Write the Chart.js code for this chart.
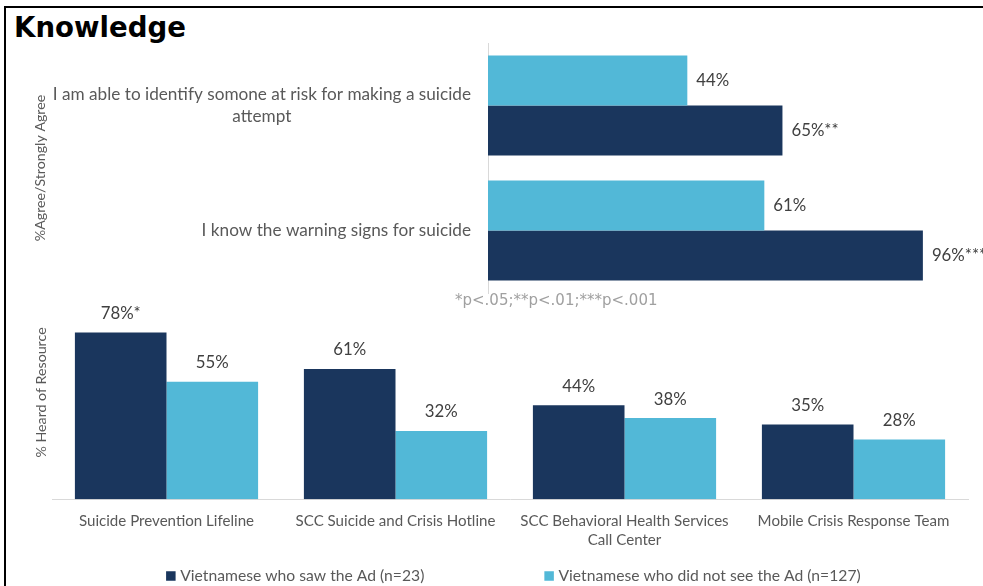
<!DOCTYPE html>
<html>
<head>
<meta charset="utf-8">
<title>Knowledge</title>
<script src="https://cdn.jsdelivr.net/npm/chart.js@4.4.1/dist/chart.umd.min.js"></script>
<style>
  html, body { margin: 0; padding: 0; background: #fff; }
  #wrap { position: relative; width: 983px; height: 586px; overflow: hidden; }
  #frame { position: absolute; left: 4px; top: 6px; width: 990px; height: 600px;
           border-top: 2px solid #000; border-left: 2px solid #000; }
  #title { position: absolute; left: 14px; top: 11px; margin: 0;
           font: bold 27.6px "DejaVu Sans", Verdana, sans-serif; color: #000; }
  canvas { position: absolute; left: 0; top: 0; }
</style>
</head>
<body>
<div id="wrap">
  <div id="frame"></div>
  <h1 id="title">Knowledge</h1>
  <canvas id="agreeChart" width="983" height="586"></canvas>
  <canvas id="heardChart" width="983" height="586"></canvas>
</div>
<script>
// ---- data ----
const seriesNames = ["Vietnamese who saw the Ad (n=23)", "Vietnamese who did not see the Ad (n=127)"];

const statements = [
  ["I am able to identify somone at risk for making a suicide", "attempt"],
  "I know the warning signs for suicide"
];
const agreeSaw = [65, 96];
const agreeSawSig = ["**", "***"];
const agreeNotSaw = [44, 61];
const agreeNotSawSig = ["", ""];

const resources = [
  "Suicide Prevention Lifeline",
  "SCC Suicide and Crisis Hotline",
  ["SCC Behavioral Health Services", "Call Center"],
  "Mobile Crisis Response Team"
];
const heardSaw = [78, 61, 44, 35];
const heardSawSig = ["*", "", "", ""];
const heardNotSaw = [55, 32, 38, 28];
const heardNotSawSig = ["", "", "", ""];

const footnote = "*p<.05;**p<.01;***p<.001";

// ---- styling ----
const DARK = "#1a365d";
const LIGHT = "#52b8d7";
const TEXT = "#595959";
const VALUE_TEXT = "#404040";
const FONT = "Lato, 'Open Sans', sans-serif";

// value labels: "NN%" plus significance stars, beside (horizontal) or above (vertical) each bar
const valueLabels = {
  id: "valueLabels",
  afterDatasetsDraw(chart, args, opts) {
    const ctx = chart.ctx;
    const horizontal = chart.options.indexAxis === "y";
    ctx.save();
    ctx.font = opts.font;
    ctx.fillStyle = VALUE_TEXT;
    ctx.textBaseline = "middle";
    chart.data.datasets.forEach((ds, di) => {
      const meta = chart.getDatasetMeta(di);
      meta.data.forEach((bar, i) => {
        const text = ds.data[i] + "%" + (ds.sig[i] || "");
        if (horizontal) {
          ctx.textAlign = "left";
          ctx.fillText(text, bar.x + opts.offset, bar.y);
        } else {
          ctx.textAlign = "center";
          ctx.fillText(text, bar.x, bar.y - opts.offset);
        }
      });
    });
    ctx.restore();
  }
};

// statement labels: block right-aligned to the axis, lines centred inside the block
const statementLabels = {
  id: "statementLabels",
  afterDraw(chart, args, opts) {
    const ctx = chart.ctx;
    const scale = chart.scales.y;
    ctx.save();
    ctx.font = opts.font;
    ctx.fillStyle = TEXT;
    ctx.textAlign = "center";
    ctx.textBaseline = "middle";
    chart.data.labels.forEach((lab, i) => {
      const lines = Array.isArray(lab) ? lab : [lab];
      const w = Math.max(...lines.map(l => ctx.measureText(l).width));
      const cx = opts.right - w / 2;
      const y0 = scale.getPixelForValue(i) - (lines.length - 1) * opts.lineHeight / 2;
      lines.forEach((l, k) => ctx.fillText(l, cx, y0 + k * opts.lineHeight));
    });
    // significance footnote under the statements
    ctx.font = opts.noteFont;
    ctx.fillStyle = opts.noteColor;
    ctx.textAlign = "left";
    ctx.fillText(footnote, opts.noteX, opts.noteY);
    ctx.restore();
  }
};

// legend row under the resource chart
const legendRow = {
  id: "legendRow",
  afterDraw(chart, args, opts) {
    const ctx = chart.ctx;
    ctx.save();
    ctx.font = opts.font;
    ctx.textBaseline = "middle";
    ctx.textAlign = "left";
    const items = chart.data.datasets.map(ds => ({
      text: ds.label, color: ds.backgroundColor, w: ctx.measureText(ds.label).width
    }));
    const total = items.reduce((s, it) => s + opts.box + opts.boxGap + it.w, 0) + opts.itemGap * (items.length - 1);
    let x = opts.centerX - total / 2;
    items.forEach(it => {
      ctx.fillStyle = it.color;
      ctx.fillRect(x, opts.y - opts.box / 2, opts.box, opts.box);
      ctx.fillStyle = TEXT;
      ctx.fillText(it.text, x + opts.box + opts.boxGap, opts.y);
      x += opts.box + opts.boxGap + it.w + opts.itemGap;
    });
    ctx.restore();
  }
};

// ---- agreement chart (horizontal bars) ----
new Chart(document.getElementById("agreeChart"), {
  type: "bar",
  data: {
    labels: statements,
    datasets: [
      { label: seriesNames[1], data: agreeNotSaw, sig: agreeNotSawSig, backgroundColor: LIGHT },
      { label: seriesNames[0], data: agreeSaw, sig: agreeSawSig, backgroundColor: DARK }
    ]
  },
  options: {
    indexAxis: "y",
    responsive: false,
    animation: false,
    events: [],
    layout: { padding: { top: 43, right: 42, bottom: 293, left: 0 } },
    datasets: { bar: { categoryPercentage: 0.8, barPercentage: 1.0 } },
    scales: {
      x: { display: false, min: 0, max: 100 },
      y: {
        grid: { display: false },
        border: { display: true, color: "#d9d9d9", width: 1 },
        ticks: { display: false },
        title: {
          display: true, text: "%Agree/Strongly Agree", color: TEXT,
          font: { family: FONT, size: 14.2 }, padding: { top: 31.5, bottom: 0 }
        },
        afterFit(s) { s.width = 488; }
      }
    },
    plugins: {
      legend: { display: false },
      tooltip: { enabled: false },
      valueLabels: { font: "16.8px " + FONT, offset: 9 },
      statementLabels: {
        font: "17.2px " + FONT, lineHeight: 22, right: 471,
        noteFont: "15px 'DejaVu Sans', Verdana, sans-serif", noteColor: "#a0a0a0",
        noteX: 455, noteY: 301
      }
    }
  },
  plugins: [valueLabels, statementLabels]
});

// ---- awareness chart (vertical bars) ----
new Chart(document.getElementById("heardChart"), {
  type: "bar",
  data: {
    labels: resources,
    datasets: [
      { label: seriesNames[0], data: heardSaw, sig: heardSawSig, backgroundColor: DARK },
      { label: seriesNames[1], data: heardNotSaw, sig: heardNotSawSig, backgroundColor: LIGHT }
    ]
  },
  options: {
    responsive: false,
    animation: false,
    events: [],
    layout: { padding: { top: 285.6, right: 15, bottom: 0, left: 0 } },
    datasets: { bar: { categoryPercentage: 0.8, barPercentage: 1.0 } },
    scales: {
      y: {
        min: 0, max: 100,
        grid: { display: false },
        border: { display: false },
        ticks: { display: false },
        title: {
          display: true, text: "% Heard of Resource", color: TEXT,
          font: { family: FONT, size: 14.2 }, padding: { top: 32.5, bottom: 0 }
        },
        afterFit(s) { s.width = 52; }
      },
      x: {
        grid: { display: false },
        border: { display: true, color: "#d9d9d9", width: 1 },
        ticks: {
          color: TEXT, padding: 4, maxRotation: 0, autoSkip: false,
          font: { family: FONT, size: 15.1, lineHeight: 1.28 }
        },
        afterFit(s) { s.height = 586 - 499.3; }
      }
    },
    plugins: {
      legend: { display: false },
      tooltip: { enabled: false },
      valueLabels: { font: "16.8px " + FONT, offset: 19 },
      legendRow: { font: "15.7px " + FONT, box: 9.5, boxGap: 4.6, itemGap: 120, y: 576, centerX: 513.4 }
    }
  },
  plugins: [valueLabels, legendRow]
});
</script>
</body>
</html>
